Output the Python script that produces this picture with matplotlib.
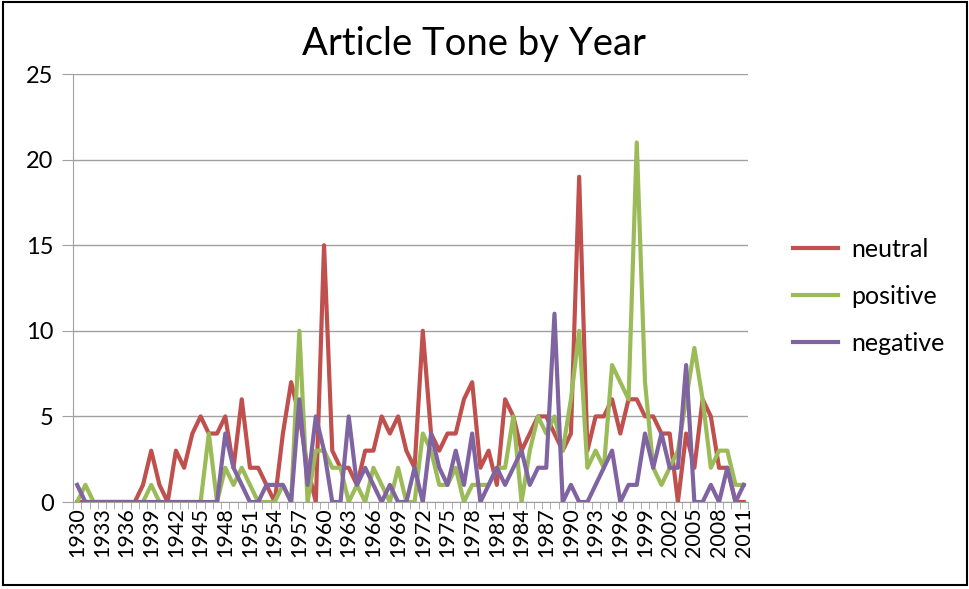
import numpy as np
import matplotlib
matplotlib.use('Agg')
import matplotlib.pyplot as plt
from matplotlib.patches import Rectangle

plt.rcParams['font.family'] = ['Lato', 'DejaVu Sans']

years = list(range(1930, 2012))

neutral = [0, 0, 0, 0, 0, 0, 0, 0, 1, 3,
           1, 0, 3, 2, 4, 5, 4, 4, 5, 2,
           6, 2, 2, 1, 0, 4, 7, 5, 2, 0,
           15, 3, 2, 2, 1, 3, 3, 5, 4, 5,
           3, 2, 10, 4, 3, 4, 4, 6, 7, 2,
           3, 1, 6, 5, 3, 4, 5, 5, 4, 3,
           4, 19, 3, 5, 5, 6, 4, 6, 6, 5,
           5, 4, 4, 0, 4, 2, 6, 5, 2, 2,
           0, 0]

positive = [0, 1, 0, 0, 0, 0, 0, 0, 0, 1,
            0, 0, 0, 0, 0, 0, 4, 0, 2, 1,
            2, 1, 0, 0, 0, 1, 0, 10, 0, 3,
            3, 2, 2, 0, 1, 0, 2, 1, 0, 2,
            0, 0, 4, 3, 1, 1, 2, 0, 1, 1,
            1, 2, 2, 5, 0, 3, 5, 4, 5, 3,
            6, 10, 2, 3, 2, 8, 7, 6, 21, 7,
            2, 1, 2, 3, 6, 9, 6, 2, 3, 3,
            1, 1]

negative = [1, 0, 0, 0, 0, 0, 0, 0, 0, 0,
            0, 0, 0, 0, 0, 0, 0, 0, 4, 2,
            1, 0, 0, 1, 1, 1, 0, 6, 1, 5,
            3, 0, 0, 5, 1, 2, 1, 0, 1, 0,
            0, 2, 0, 4, 2, 1, 3, 1, 4, 0,
            1, 2, 1, 2, 3, 1, 2, 2, 11, 0,
            1, 0, 0, 1, 2, 3, 0, 1, 1, 4,
            2, 4, 2, 2, 8, 0, 0, 1, 0, 2,
            0, 1]

series = [('neutral', neutral, '#C0504D'),
          ('positive', positive, '#9BBB59'),
          ('negative', negative, '#8064A2')]

fig = plt.figure(figsize=(9.7, 5.89), dpi=100)
ax = fig.add_axes([0.0753, 0.1477, 0.6957, 0.7266])

x = np.arange(len(years))
for name, vals, col in series:
    ax.plot(x, vals, color=col, lw=3, label=name, solid_joinstyle='round')

ax.set_xlim(-0.5, len(years) - 0.5)
ax.set_ylim(0, 25)
ax.set_yticks(range(0, 26, 5))
ax.yaxis.grid(True, color='#A0A0A0', lw=1)
ax.set_axisbelow(True)

ax.set_xticks(x[::3])
ax.set_xticklabels([str(y) for y in years[::3]], rotation=90, fontsize=15.5)
ax.set_xticks(np.arange(-0.5, len(years), 1), minor=True)
ax.tick_params(axis='x', which='major', length=0, pad=4)
ax.tick_params(axis='x', which='minor', length=5, color='#A0A0A0')
ax.tick_params(axis='y', length=8, color='#A0A0A0', labelsize=17, pad=6)

for s in ['top', 'right']:
    ax.spines[s].set_visible(False)
for s in ['left', 'bottom']:
    ax.spines[s].set_color('#A0A0A0')

fig.text(0.489, 0.925, 'Article Tone by Year', ha='center', va='center', fontsize=27.5)

fig.legend(loc='center left', bbox_to_anchor=(0.8175, 0.497), frameon=False,
           fontsize=18, handlelength=1.8, handletextpad=0.55, labelspacing=0.95,
           borderpad=0, borderaxespad=0)

fig.patches.append(Rectangle((0.003, 0.006), 0.994, 0.99, transform=fig.transFigure,
                             fill=False, edgecolor='black', lw=1.5))

fig.savefig('out.png', dpi=100)
